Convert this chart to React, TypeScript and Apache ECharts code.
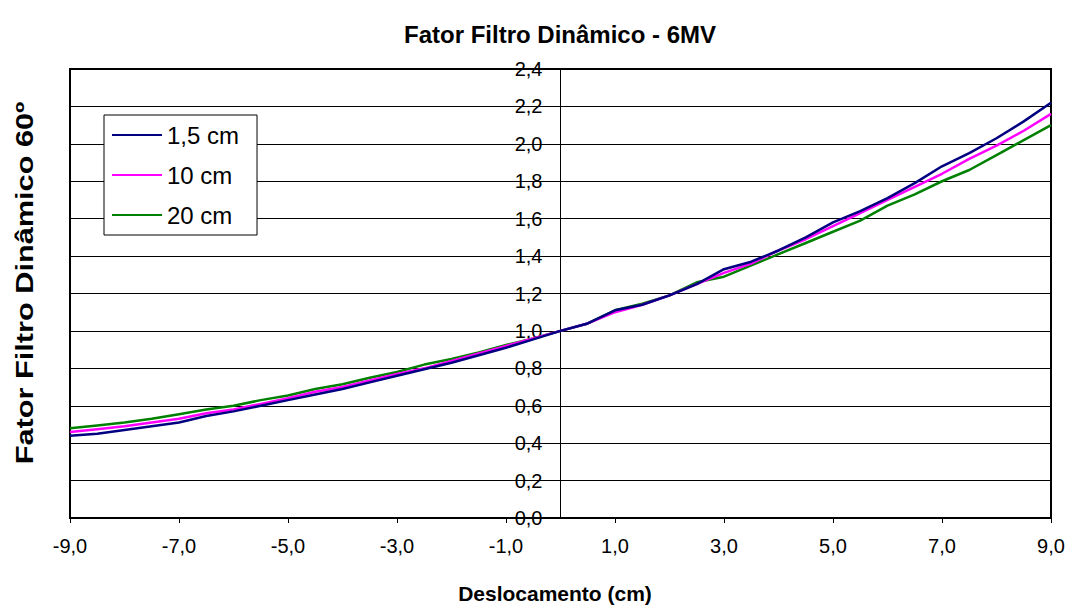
import React, { useEffect, useRef } from "react";
import * as echarts from "echarts";

const xValues = [
  -9, -8.5, -8, -7.5, -7, -6.5, -6, -5.5, -5, -4.5, -4, -3.5, -3, -2.5, -2, -1.5, -1, -0.5,
  0, 0.5, 1, 1.5, 2, 2.5, 3, 3.5, 4, 4.5, 5, 5.5, 6, 6.5, 7, 7.5, 8, 8.5, 9,
];

const seriesNames = ["1,5 cm", "10 cm", "20 cm"];

const blue15 = [
  0.44, 0.45, 0.47, 0.49, 0.51, 0.545, 0.57, 0.6, 0.63, 0.66, 0.69, 0.725, 0.76, 0.795, 0.83, 0.87, 0.91, 0.955,
  1.0, 1.04, 1.11, 1.14, 1.19, 1.25, 1.33, 1.37, 1.43, 1.5, 1.58, 1.64, 1.71, 1.79, 1.88, 1.95, 2.03, 2.12, 2.22,
];

const magenta10 = [
  0.46, 0.475, 0.49, 0.51, 0.53, 0.56, 0.58, 0.61, 0.64, 0.675, 0.7, 0.735, 0.77, 0.8, 0.84, 0.88, 0.92, 0.96,
  1.0, 1.04, 1.1, 1.14, 1.19, 1.25, 1.31, 1.36, 1.43, 1.49, 1.56, 1.63, 1.7, 1.77, 1.84, 1.92, 1.99, 2.07, 2.16,
];

const green20 = [
  0.48, 0.495, 0.51, 0.53, 0.555, 0.58, 0.6, 0.63, 0.655, 0.69, 0.715, 0.75, 0.78, 0.82, 0.85, 0.885, 0.925, 0.96,
  1.0, 1.04, 1.11, 1.145, 1.19, 1.26, 1.29, 1.35, 1.41, 1.47, 1.53, 1.59, 1.67, 1.73, 1.8, 1.86, 1.94, 2.02, 2.1,
];

const xTickValues = [-9, -7, -5, -3, -1, 1, 3, 5, 7, 9];

const colors = ["#000080", "#FF00FF", "#008000"];

const fmt = (v: number) => v.toFixed(1).replace(".", ",");

const GRID_LEFT = 70;
const GRID_RIGHT = 22;
const WIDTH = 1073;

export default function App() {
  const ref = useRef<HTMLDivElement>(null);

  useEffect(() => {
    document.body.style.margin = "0";
    if (!ref.current) return;
    const chart = echarts.init(ref.current, null, { renderer: "svg" });
    const allSeries = [blue15, magenta10, green20];
    const font = "Liberation Sans, Arial, sans-serif";
    const plotW = WIDTH - GRID_LEFT - GRID_RIGHT;
    chart.setOption({
      animation: false,
      backgroundColor: "#ffffff",
      textStyle: { fontFamily: font },
      title: {
        text: "Fator Filtro Dinâmico - 6MV",
        left: 555,
        textAlign: "center",
        top: 17,
        textStyle: { fontSize: 24, fontWeight: "bold", color: "#000", fontFamily: font },
      },
      grid: {
        left: GRID_LEFT,
        right: GRID_RIGHT,
        top: 69,
        bottom: 93,
        show: true,
        borderColor: "#000",
        borderWidth: 2,
        backgroundColor: "transparent",
      },
      legend: {
        orient: "vertical",
        left: 104,
        top: 115,
        backgroundColor: "#fff",
        borderColor: "#000",
        borderWidth: 1,
        padding: [8, 18, 8, 8],
        icon: "rect",
        itemWidth: 50,
        itemHeight: 2,
        itemGap: 16,
        textStyle: { fontSize: 24, color: "#000", fontFamily: font },
        data: seriesNames,
      },
      xAxis: {
        type: "value",
        min: -9,
        max: 9,
        axisLine: { onZero: false, lineStyle: { color: "#000", width: 2 } },
        axisTick: {
          show: true,
          length: 5,
          customValues: xTickValues,
          lineStyle: { color: "#000" },
        },
        axisLabel: {
          customValues: xTickValues,
          formatter: (v: number) => fmt(v),
          fontSize: 20,
          color: "#000",
          margin: 18,
          fontFamily: font,
        },
        splitLine: { show: false },
      },
      yAxis: {
        type: "value",
        min: 0,
        max: 2.4,
        interval: 0.2,
        position: "left",
        offset: -plotW / 2,
        axisLine: { show: true, onZero: false, lineStyle: { color: "#000", width: 1 } },
        axisTick: { show: true, length: 4, lineStyle: { color: "#000" } },
        axisLabel: {
          formatter: (v: number) => fmt(v),
          fontSize: 20,
          color: "#000",
          margin: 18,
          fontFamily: font,
        },
        splitLine: { show: true, lineStyle: { color: "#000", width: 1 } },
      },
      graphic: [
        {
          type: "text",
          x: 555,
          y: 593,
          style: {
            text: "Deslocamento (cm)",
            fontSize: 21,
            fontWeight: "bold",
            fill: "#000",
            fontFamily: font,
            align: "center",
            verticalAlign: "middle",
          },
        },
        {
          type: "text",
          x: 25,
          y: 283,
          rotation: Math.PI / 2,
          scaleX: 1.28,
          style: {
            text: "Fator Filtro Dinâmico 60º",
            fontSize: 24,
            fontWeight: "bold",
            fill: "#000",
            fontFamily: font,
            align: "center",
            verticalAlign: "middle",
          },
        },
      ],
      series: allSeries.map((vals, i) => ({
        name: seriesNames[i],
        type: "line",
        symbol: "none",
        data: xValues.map((x, j) => [x, vals[j]]),
        lineStyle: { color: colors[i], width: 2.5 },
        itemStyle: { color: colors[i] },
        z: 3 - i,
      })),
    });
    return () => chart.dispose();
  }, []);

  return <div ref={ref} style={{ width: WIDTH, height: 611 }} />;
}
